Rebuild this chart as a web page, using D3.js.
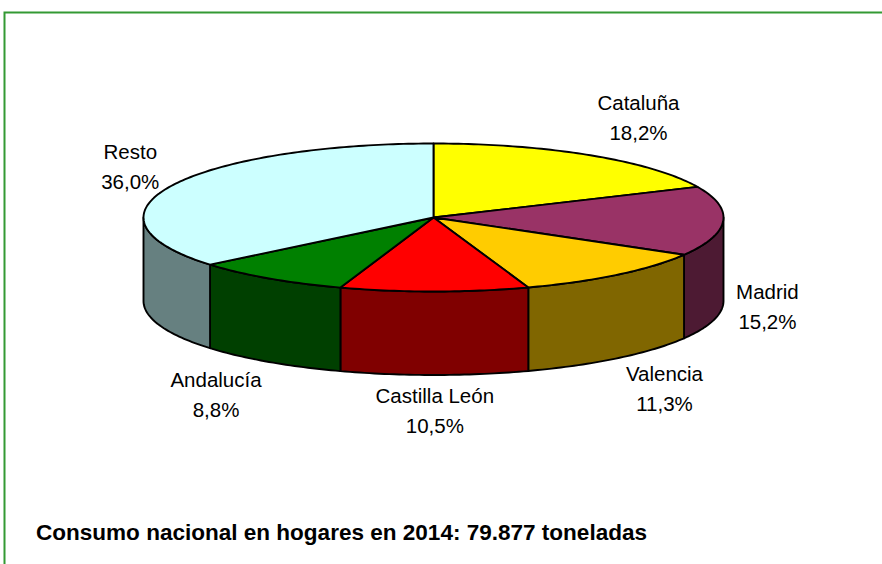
<!DOCTYPE html>
<html>
<head>
<meta charset="utf-8">
<script src="https://cdn.jsdelivr.net/npm/d3@7"></script>
<style>
  html, body { margin: 0; padding: 0; background: #ffffff; }
  svg { display: block; }
  text { font-family: "Liberation Sans", Arial, sans-serif; fill: #000000; }
</style>
</head>
<body>
<svg id="chart" width="882" height="564"></svg>
<script>
// Household consumption by region, 2014 (share of national total, %)
const regions = ["Cataluña", "Madrid", "Valencia", "Castilla León", "Andalucía", "Resto"];
const shares = [18.2, 15.2, 11.3, 10.5, 8.8, 36.0];
const topColors = ["#FFFF00", "#993366", "#FFCC00", "#FF0000", "#008000", "#CCFFFF"];
const year = 2014;
const totalTonnes = 79877;

const es = d3.formatLocale({ decimal: ",", thousands: ".", grouping: [3], currency: ["", " €"] });
const fmtPct = es.format(".1f");
const fmtInt = es.format(",d");

const W = 882, H = 564;
const svg = d3.select("#chart");

// Frame
svg.append("path")
  .attr("d", `M4.5,${H} L4.5,12.5 L${W},12.5`)
  .attr("fill", "none")
  .attr("stroke", "#339933")
  .attr("stroke-width", 2);

// 3D pie geometry
const cx = 433.5, cy = 217.5, rx = 290, ry = 74, depth = 83.5;
const px = a => cx + rx * Math.sin(a);
const py = a => cy - ry * Math.cos(a);

const pie = d3.pie().sort(null).value(d => d.v).startAngle(0).endAngle(2 * Math.PI);
const arcs = pie(regions.map((name, i) => ({ name, v: shares[i], color: topColors[i] })));

const sideColor = c => { const r = d3.rgb(c); return d3.rgb(r.r / 2, r.g / 2, r.b / 2).formatHex(); };

function arcPoints(a0, a1, dy) {
  const n = Math.max(2, Math.ceil(Math.abs(a1 - a0) / (Math.PI / 180)));
  return d3.range(n + 1).map(k => {
    const a = a0 + (a1 - a0) * k / n;
    return [px(a), py(a) + dy];
  });
}
const line = d3.line();

// Outer walls on the visible front half
const front0 = Math.PI / 2, front1 = 3 * Math.PI / 2;
const walls = svg.append("g");
arcs.forEach(d => {
  const a0 = Math.max(d.startAngle, front0), a1 = Math.min(d.endAngle, front1);
  if (a1 <= a0) return;
  const pts = arcPoints(a0, a1, 0).concat(arcPoints(a1, a0, depth));
  walls.append("path")
    .attr("d", line(pts) + "Z")
    .attr("fill", sideColor(d.data.color))
    .attr("stroke", "#000")
    .attr("stroke-width", 1.9)
    .attr("stroke-linejoin", "round");
});

// Top faces
const tops = svg.append("g");
arcs.forEach(d => {
  const pts = [[cx, cy]].concat(arcPoints(d.startAngle, d.endAngle, 0));
  tops.append("path")
    .attr("d", line(pts) + "Z")
    .attr("fill", d.data.color)
    .attr("stroke", "#000")
    .attr("stroke-width", 1.9)
    .attr("stroke-linejoin", "round");
});

// Data labels: each two-line block sits just outside the rim at its slice's mid angle,
// pushed outward by half its own size so the nearest corner keeps a small gap.
const labelGap = 13, lineStep = 30, halfBlockH = 22.4, capOffset = 7.6;
const clampTo = (v, k) => Math.max(-1, Math.min(1, v / k));
const labels = svg.append("g").attr("font-size", 20.5).attr("text-anchor", "middle");
arcs.forEach(d => {
  const a = (d.startAngle + d.endAngle) / 2;
  const s = Math.sin(a), c = Math.cos(a);
  const t = labels.append("text");
  const l1 = t.append("tspan").text(d.data.name);
  const l2 = t.append("tspan").attr("dy", lineStep).text(fmtPct(d.data.v) + "%");
  const halfW = Math.max(l1.node().getComputedTextLength(), l2.node().getComputedTextLength()) / 2;
  const ex = px(a), ey = py(a) + (c < 0 ? depth : 0);
  const x = ex + s * labelGap + halfW * clampTo(s, 0.5);
  const yc = ey - c * (labelGap + (c > 0 ? 6 : 0)) - halfBlockH * clampTo(c, 0.85);
  t.attr("x", x).attr("y", yc - capOffset);
  l1.attr("x", x);
  l2.attr("x", x);
});

// Caption
svg.append("text")
  .attr("x", 36).attr("y", 540)
  .attr("font-size", 22).attr("font-weight", "bold")
  .attr("textLength", 611).attr("lengthAdjust", "spacingAndGlyphs")
  .text(`Consumo nacional en hogares en ${year}: ${fmtInt(totalTonnes)} toneladas`);
</script>
</body>
</html>
